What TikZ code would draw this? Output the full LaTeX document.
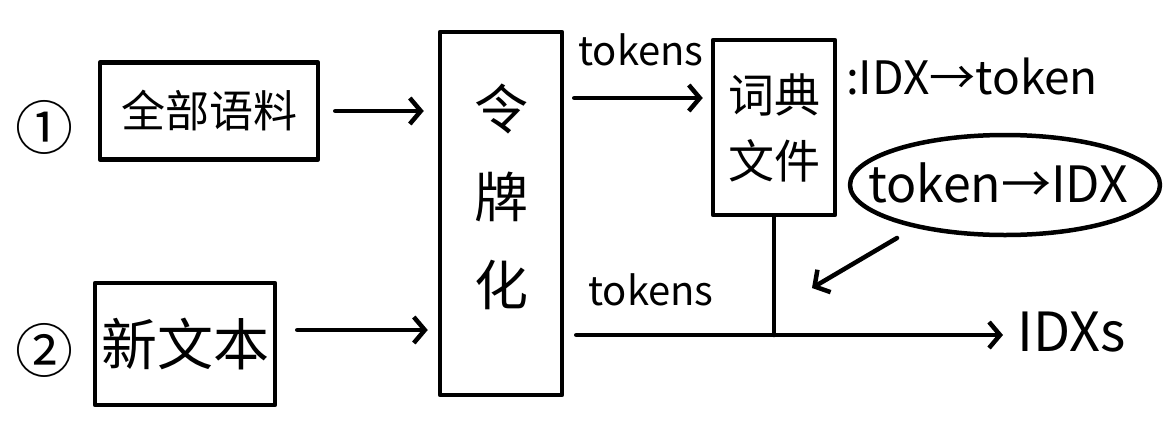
\documentclass[tikz,border=0pt]{standalone}
\usepackage{fontspec}
\setmainfont{Noto Sans CJK SC}
\usetikzlibrary{arrows.meta}

\tikzset{
  box/.style={draw, inner sep=0pt, line width=4.5pt},
  arr/.style={-{Straight Barb[length=11pt,width=26pt,line width=4.5pt]}},
  hand/.style={inner sep=0pt, align=center},
}

\begin{document}
\begin{tikzpicture}[x=1pt, y=-1pt, line width=4.5pt, line cap=round, line join=round]

  %% ════ 编号 ════
  \node[hand, font=\fontsize{58}{64}\selectfont] (one) at (45,127) {①};
  \node[hand, font=\fontsize{58}{64}\selectfont] (two) at (45,350) {②};

  %% ════ 方框 ════
  \node[box, minimum width=218pt, minimum height=97pt, font=\fontsize{44}{52}\selectfont] (corpus) at (209,111) {全部语料};
  \node[box, minimum width=180pt, minimum height=122pt, font=\fontsize{56}{64}\selectfont] (newtext) at (185,344) {新文本};
  \node[box, minimum width=122pt, minimum height=363pt] (tokenizer) at (501,213.5) {};
  \node[hand, font=\fontsize{54}{88}\selectfont] (toklabel) at (501,197) {令\\牌\\化};
  \node[box, minimum width=122pt, minimum height=175pt, font=\fontsize{46}{66}\selectfont, align=center] (vocab) at (774,127.5) {词典\\文件};

  %% ════ 文字标签 ════
  \node[hand, font=\fontsize{40}{46}\selectfont] (toptok) at (641,50) {tokens};
  \node[hand, font=\fontsize{40}{46}\selectfont] (bottok) at (651,290) {tokens};
  \node[hand, font=\fontsize{46}{54}\selectfont] (idx2tok) at (972,76) {:IDX→token};
  \node[hand, font=\fontsize{50}{58}\selectfont] (lookup) at (998,183) {token→IDX};
  % 椭圆圈住 lookup
  \draw ([shift={(7,2)}]lookup.center) ellipse [x radius=155, y radius=50];
  \node[hand, font=\fontsize{54}{62}\selectfont, anchor=west] (idxs) at (1015,332) {IDXs};

  \coordinate (tail) at (897,238);
  \coordinate (hit) at (812,288);

  %% ════ 连线 ════
  \draw[arr, shorten <=15pt, shorten >=14pt] (corpus.east) -- (tokenizer.west |- corpus.east);
  \draw[arr, shorten <=20pt, shorten >=10pt] ([yshift=14pt]newtext.east) -- (tokenizer.west |- 0,330);
  \draw[arr, shorten <=10pt, shorten >=8pt] (tokenizer.east |- 0,98) -- (vocab.west |- 0,98);
  \draw[shorten <=12pt] (tokenizer.east |- 0,335) -- (vocab.south |- 0,335);
  \draw[arr, shorten >=12pt] (vocab.south |- 0,335) -- (idxs.west |- 0,335);
  \draw (vocab.south) -- (vocab.south |- 0,335);
  \draw[arr] (tail) -- (hit);

  % 钉死画布
  \pgfresetboundingbox
  \path[use as bounding box] (0,0) rectangle (1170,429);
\end{tikzpicture}
\end{document}
